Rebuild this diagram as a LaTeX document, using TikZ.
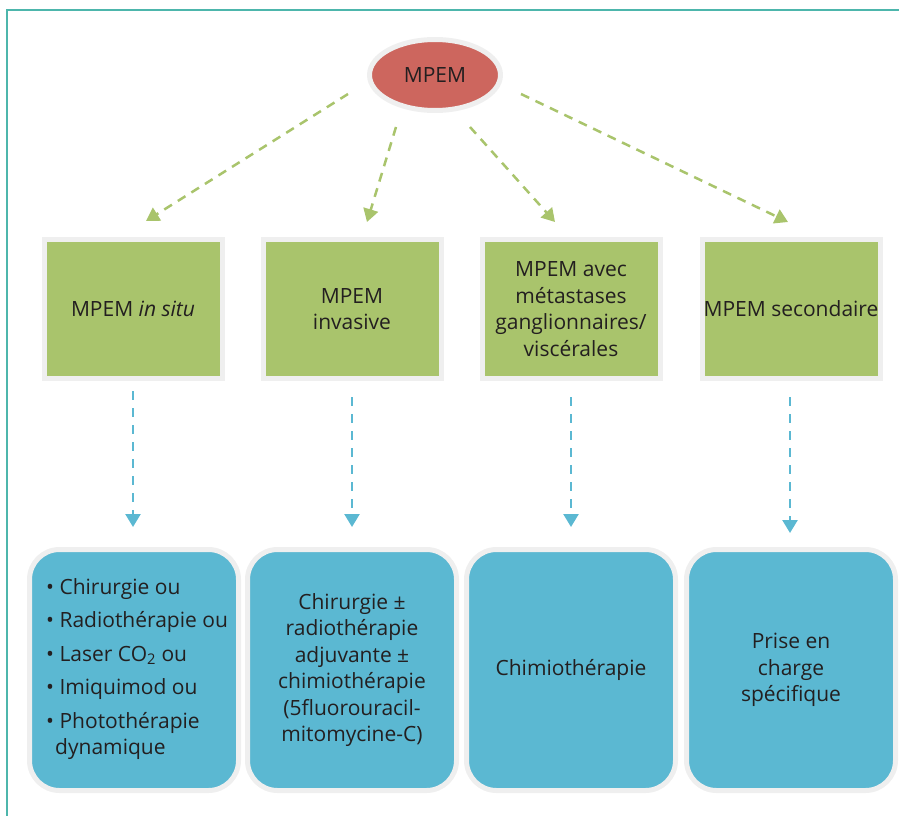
\documentclass[tikz,border=0pt]{standalone}
\usepackage{fontspec}
\setmainfont{Open Sans}
\usetikzlibrary{arrows.meta,shapes.geometric}
\definecolor{frameteal}{HTML}{4DB6AC}
\definecolor{ringgrey}{HTML}{EFEFEF}
\definecolor{mpemred}{HTML}{CD665E}
\definecolor{boxgreen}{HTML}{A9C46C}
\definecolor{boxblue}{HTML}{5BB8D2}
\definecolor{txt}{HTML}{231F20}
\begin{document}
\begin{tikzpicture}[x=1pt,y=-1pt,
  every node/.style={text=txt,font=\fontsize{21}{26.5}\selectfont,inner sep=0pt},
  rootnode/.style={ellipse,fill=mpemred,draw=ringgrey,line width=5pt,minimum width=131pt,minimum height=71pt},
  catbox/.style={rectangle,fill=boxgreen,draw=ringgrey,line width=5pt,minimum width=178pt,minimum height=139pt,align=center},
  treatbox/.style={rectangle,rounded corners=30pt,fill=boxblue,draw=ringgrey,line width=5pt,minimum width=209pt,minimum height=241pt,align=center},
  greenarrow/.style={draw=boxgreen,line width=2.5pt,dash pattern=on 9pt off 7pt,-{Triangle[length=13pt,width=15pt]}},
  bluearrow/.style={draw=boxblue,line width=2.5pt,dash pattern=on 9pt off 8pt,-{Triangle[length=13pt,width=15pt]}}]
\useasboundingbox (0,0) rectangle (899,816);
\draw[frameteal,line width=2pt] (7,816) -- (7,10) -- (899,10);

\node[rootnode] (root) at (435,75) {MPEM};

\node[catbox] (c1) at (133,309) {MPEM \textit{in situ}};
\node[catbox] (c2) at (352,309) {MPEM\\invasive};
\node[catbox] (c3) at (571,309) {MPEM avec\\métastases\\ganglionnaires/\\viscérales};
\node[catbox] (c4) at (791,309) {MPEM secondaire};

\node[treatbox] (t1) at (134,670) {};
\node[treatbox] (t2) at (352,670) {Chirurgie ±\\radiothérapie\\adjuvante ±\\chimiothérapie\\(5fluorouracil-\\mitomycine-C)};
\node[treatbox] (t3) at (571,670) {Chimiothérapie};
\node[treatbox] (t4) at (791,670) {Prise en\\charge\\spécifique};

\node[anchor=west,align=left] (t1text) at (46,669) {%
• Chirurgie ou\\[7pt]
• Radiothérapie ou\\[7pt]
• Laser CO\textsubscript{2} ou\\[7pt]
• Imiquimod ou\\[7pt]
• Photothérapie\\
\hspace*{9pt}dynamique};

\coordinate (g1s) at (348,94);  \coordinate (g1e) at (146,221);
\coordinate (g2s) at (396,127); \coordinate (g2e) at (367,222);
\coordinate (g3s) at (470,127); \coordinate (g3e) at (555,222);
\coordinate (g4s) at (521,94);  \coordinate (g4e) at (788,222);
\draw[greenarrow] (g1s) -- (g1e);
\draw[greenarrow] (g2s) -- (g2e);
\draw[greenarrow] (g3s) -- (g3e);
\draw[greenarrow] (g4s) -- (g4e);

\coordinate (b1s) at (133,391); \coordinate (b1e) at (133,527);
\coordinate (b2s) at (352,397); \coordinate (b2e) at (352,527);
\coordinate (b3s) at (571,397); \coordinate (b3e) at (571,527);
\coordinate (b4s) at (790,397); \coordinate (b4e) at (790,533);
\draw[bluearrow] (b1s) -- (b1e);
\draw[bluearrow] (b2s) -- (b2e);
\draw[bluearrow] (b3s) -- (b3e);
\draw[bluearrow] (b4s) -- (b4e);
\end{tikzpicture}
\end{document}
